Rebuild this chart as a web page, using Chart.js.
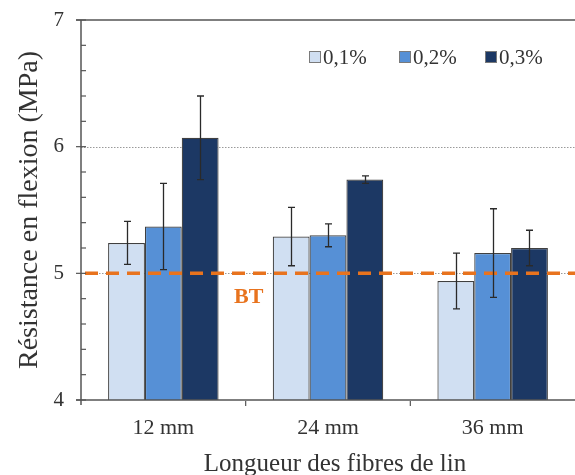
<!DOCTYPE html>
<html>
<head>
<meta charset="utf-8">
<script src="https://cdn.jsdelivr.net/npm/chart.js@4/dist/chart.umd.min.js"></script>
<style>
  html, body { margin: 0; padding: 0; background: #ffffff; }
  canvas { display: block; }
</style>
</head>
<body>
<canvas id="c" width="575" height="475"></canvas>
<script>
// ---- data ----
const categories = ['12 mm', '24 mm', '36 mm'];
const seriesLabels = ['0,1%', '0,2%', '0,3%'];
const values01 = [5.24, 5.29, 4.94];
const values02 = [5.37, 5.30, 5.16];
const values03 = [6.07, 5.74, 5.20];
const errors01 = [0.17, 0.23, 0.22];
const errors02 = [0.34, 0.09, 0.35];
const errors03 = [0.33, 0.03, 0.14];
const yMajorTicks = [4, 5, 6, 7];
const yMinorTicks = [4.2, 4.4, 4.6, 4.8, 5.2, 5.4, 5.6, 5.8, 6.2, 6.4, 6.6, 6.8];
const btValue = 5;
const btLabel = 'BT';
const xTitle = 'Longueur des fibres de lin';
const yTitle = 'Résistance en flexion (MPa)';

const seriesValues = [values01, values02, values03];
const seriesErrors = [errors01, errors02, errors03];
const seriesColors = ['#d0dff2', '#5690d6', '#1c3864'];

const SERIF = '"Liberation Serif", "Times New Roman", serif';
const TEXT = '#333333';
const AXIS = '#555555';

const overlay = {
  id: 'overlay',
  beforeDatasetsDraw(chart) {
    const ctx = chart.ctx, y = chart.scales.y, a = chart.chartArea;
    ctx.save();
    ctx.strokeStyle = '#9a9a9a';
    ctx.lineWidth = 1;
    ctx.setLineDash([1.5, 1.5]);
    [5, 6].forEach(v => {
      const py = Math.round(y.getPixelForValue(v)) + 0.5;
      ctx.beginPath(); ctx.moveTo(a.left, py); ctx.lineTo(a.right, py); ctx.stroke();
    });
    ctx.restore();
  },
  afterDatasetsDraw(chart) {
    const ctx = chart.ctx, x = chart.scales.x, y = chart.scales.y, a = chart.chartArea;
    ctx.save();
    // BT dashed line
    const by = y.getPixelForValue(btValue);
    ctx.strokeStyle = '#e8731e';
    ctx.lineWidth = 3.5;
    ctx.setLineDash([13, 8]);
    ctx.lineDashOffset = -4;
    ctx.beginPath(); ctx.moveTo(a.left, by); ctx.lineTo(a.right, by); ctx.stroke();
    ctx.setLineDash([]);
    // BT label
    ctx.fillStyle = '#e8731e';
    ctx.font = 'bold 22px ' + SERIF;
    ctx.textAlign = 'center';
    ctx.textBaseline = 'middle';
    ctx.fillText(btLabel, x.getPixelForValue(0.5) + 3, by + 24);

    // error bars
    ctx.strokeStyle = '#2a2a2a';
    ctx.lineWidth = 1.3;
    chart.data.datasets.forEach((ds, i) => {
      const meta = chart.getDatasetMeta(i);
      meta.data.forEach((bar, j) => {
        const v = seriesValues[i][j], e = seriesErrors[i][j];
        const y1 = y.getPixelForValue(v + e), y2 = y.getPixelForValue(v - e);
        const cx = Math.round(bar.x) + 0.5;
        ctx.beginPath();
        ctx.moveTo(cx, y1); ctx.lineTo(cx, y2);
        ctx.moveTo(cx - 3.5, y1); ctx.lineTo(cx + 3.5, y1);
        ctx.moveTo(cx - 3.5, y2); ctx.lineTo(cx + 3.5, y2);
        ctx.stroke();
      });
    });

    // axes
    ctx.strokeStyle = AXIS;
    ctx.lineWidth = 1.5;
    const lx = a.left;
    const ty = y.getPixelForValue(7);
    ctx.beginPath(); ctx.moveTo(lx, ty); ctx.lineTo(lx, a.bottom + 5); ctx.stroke();
    ctx.beginPath(); ctx.moveTo(lx - 5, a.bottom); ctx.lineTo(a.right, a.bottom); ctx.stroke();
    ctx.beginPath(); ctx.moveTo(lx - 5, ty); ctx.lineTo(a.right, ty); ctx.stroke();
    ctx.lineWidth = 1.2;
    yMajorTicks.forEach(v => {
      const py = y.getPixelForValue(v);
      ctx.beginPath(); ctx.moveTo(lx - 5, py); ctx.lineTo(lx + 5, py); ctx.stroke();
    });
    yMinorTicks.forEach(v => {
      const py = y.getPixelForValue(v);
      ctx.beginPath(); ctx.moveTo(lx, py); ctx.lineTo(lx + 5, py); ctx.stroke();
    });
    for (let k = 0; k < categories.length - 1; k++) {
      const px = x.getPixelForValue(k + 0.5);
      ctx.beginPath(); ctx.moveTo(px, a.bottom + 1); ctx.lineTo(px, a.bottom + 6); ctx.stroke();
    }

    // x axis title
    ctx.fillStyle = TEXT;
    ctx.font = '25px ' + SERIF;
    ctx.textAlign = 'center';
    ctx.textBaseline = 'alphabetic';
    ctx.fillText(xTitle, (a.left + a.right) / 2 + 7, 471);

    // legend
    const legendX = [309, 399, 485];
    const legendY = 57;
    ctx.font = '21px ' + SERIF;
    ctx.textAlign = 'left';
    ctx.textBaseline = 'middle';
    chart.data.datasets.forEach((ds, i) => {
      const lx0 = legendX[i];
      ctx.fillStyle = ds.backgroundColor;
      ctx.fillRect(lx0, legendY - 6, 12, 12);
      ctx.strokeStyle = '#7a7a7a';
      ctx.lineWidth = 1;
      ctx.strokeRect(lx0 + 0.5, legendY - 5.5, 11, 11);
      ctx.fillStyle = TEXT;
      ctx.fillText(ds.label, lx0 + 14, legendY + 1);
    });
    ctx.restore();
  }
};

new Chart(document.getElementById('c'), {
  type: 'bar',
  data: {
    labels: categories,
    datasets: seriesLabels.map((lab, i) => ({
      label: lab,
      data: seriesValues[i],
      backgroundColor: seriesColors[i],
      borderColor: '#404040',
      borderWidth: 1.2,
      categoryPercentage: 0.671,
      barPercentage: 1.0
    }))
  },
  options: {
    responsive: false,
    devicePixelRatio: 1,
    animation: false,
    layout: { padding: { top: 20, right: 0, left: 0, bottom: 0 } },
    plugins: { legend: { display: false }, tooltip: { enabled: false } },
    scales: {
      x: {
        offset: true,
        grid: { display: false, drawTicks: false },
        border: { display: false },
        ticks: { color: TEXT, font: { family: SERIF, size: 22, lineHeight: 1.2 }, padding: 15 },
        afterFit(scale) { scale.height = 75; scale.paddingLeft = 0; scale.paddingRight = 0; }
      },
      y: {
        min: 4, max: 7,
        afterBuildTicks(scale) { scale.ticks = yMajorTicks.map(v => ({ value: v })); },
        grid: { display: false, drawTicks: false },
        border: { display: false },
        ticks: { color: TEXT, font: { family: SERIF, size: 21 }, padding: 17 },
        title: { display: true, text: yTitle, color: TEXT,
                 font: { family: SERIF, size: 28, lineHeight: 1 }, padding: { top: 16, bottom: 0 } },
        afterFit(scale) { scale.width = 81; scale.paddingTop = 0; scale.paddingBottom = 0; }
      }
    }
  },
  plugins: [overlay]
});
</script>
</body>
</html>
